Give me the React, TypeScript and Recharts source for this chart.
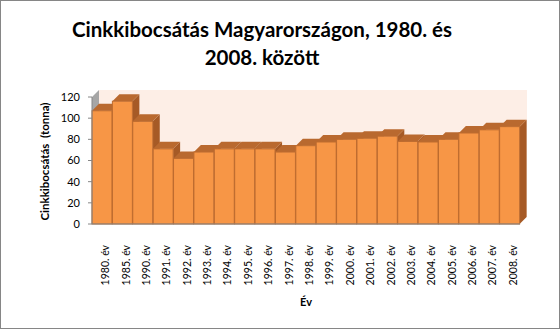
import React from 'react';
import { BarChart, Bar, XAxis, YAxis, ReferenceArea } from 'recharts';

// kibocsátás évenként (tonna)
const years = [
  '1980. év', '1985. év', '1990. év', '1991. év', '1992. év', '1993. év', '1994. év',
  '1995. év', '1996. év', '1997. év', '1998. év', '1999. év', '2000. év', '2001. év',
  '2002. év', '2003. év', '2004. év', '2005. év', '2006. év', '2007. év', '2008. év',
];
const emission = [107, 116, 97, 71, 62, 68, 71, 71, 71, 68, 74, 77.5, 80, 81, 83, 78, 77.5, 80, 86, 89, 92];
const yTicks = [0, 20, 40, 60, 80, 100, 120];

const DEPTH = 7;
const FONT = 'Lato, "Open Sans", sans-serif';

const chartData = years.map((year, i) => ({ year, value: emission[i] }));

// 3D-s oszlop: elülső lap, teteje, jobb oldala
const Column3D = (props: any) => {
  const { x, y, width, height } = props;
  if (height == null || height <= 0) return null;
  const d = DEPTH;
  return (
    <g>
      <polygon
        points={`${x + width},${y} ${x + width + d},${y - d} ${x + width + d},${y + height - d} ${x + width},${y + height}`}
        fill="#a65a26"
      />
      <polygon
        points={`${x},${y} ${x + d},${y - d} ${x + width + d},${y - d} ${x + width},${y}`}
        fill="#b9692f"
      />
      <rect x={x} y={y} width={width} height={height} fill="#f79646" stroke="#bd6b2f" strokeWidth={1} />
    </g>
  );
};

const BackWall = (props: any) => {
  const { x, y, width, height } = props;
  const d = DEPTH;
  return (
    <g>
      <rect x={x + d} y={y - d} width={width} height={height} fill="#fdeee6" />
      <polygon points={`${x},${y} ${x + d},${y - d} ${x + d},${y + height - d} ${x},${y + height}`} fill="#a6a6a6" />
    </g>
  );
};

const YearTick = (props: any) => {
  const { x, y, payload } = props;
  return (
    <text
      transform={`translate(${x + 7},${y + 13}) rotate(-90)`}
      textAnchor="end"
      fontSize={10.5}
      fontFamily={FONT}
      fill="#000"
    >
      {payload.value}
    </text>
  );
};

const YTitle = (props: any) => {
  const { viewBox } = props;
  const cy = viewBox.y + viewBox.height / 2 + 1;
  return (
    <text
      transform={`translate(49,${cy}) rotate(-90)`}
      textAnchor="middle"
      fontSize={11.5}
      fontWeight="bold"
      fontFamily={FONT}
      fill="#000"
      style={{ whiteSpace: 'pre' }}
    >
      {'Cinkkibocsátás\u00a0\u00a0(tonna)'}
    </text>
  );
};

export default function App() {
  return (
    <div
      style={{
        position: 'absolute',
        left: 0,
        top: 0,
        width: 560,
        height: 329,
        boxSizing: 'border-box',
        border: '1px solid #868686',
        background: '#fff',
        fontFamily: FONT,
      }}
    >
      <div
        style={{
          position: 'absolute',
          left: 0,
          width: 522,
          top: 14,
          textAlign: 'center',
          fontWeight: 'bold',
          fontSize: 20.5,
          lineHeight: '28px',
        }}
      >
        Cinkkibocsátás Magyarországon, 1980. és
        <br />
        2008. között
      </div>
      <div style={{ position: 'absolute', left: -1, top: -1 }}>
        <BarChart
          width={560}
          height={329}
          data={chartData}
          margin={{ top: 97, right: 40, left: 0, bottom: 0 }}
          barCategoryGap={0}
        >
          <ReferenceArea y1={0} y2={120} shape={BackWall} ifOverflow="visible" />
          <XAxis
            dataKey="year"
            height={105}
            interval={0}
            tickLine={false}
            axisLine={{ stroke: '#868686' }}
            tick={<YearTick />}
            label={{ value: 'Év', position: 'insideBottom', offset: 23, fontSize: 11, fontWeight: 'bold', fill: '#000', fontFamily: FONT }}
          />
          <YAxis
            width={92}
            domain={[0, 120]}
            ticks={yTicks}
            tickSize={4}
            tickMargin={8}
            tickLine={{ stroke: '#868686' }}
            axisLine={{ stroke: '#868686' }}
            tick={{ fontSize: 11, fill: '#000', fontFamily: FONT }}
            label={<YTitle />}
          />
          <Bar dataKey="value" shape={Column3D} isAnimationActive={false} />
        </BarChart>
      </div>
    </div>
  );
}
